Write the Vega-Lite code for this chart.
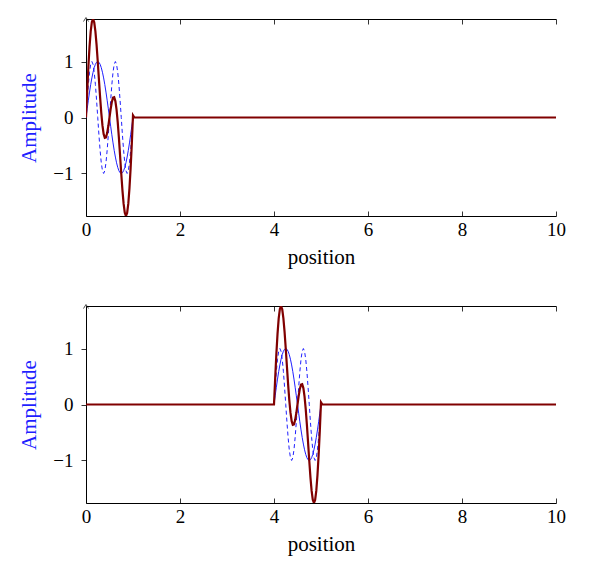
{
  "$schema": "https://vega.github.io/schema/vega-lite/v6.json",
  "padding": {"left": 18, "top": 15, "right": 5, "bottom": 5},
  "spacing": 35,
  "datasets": {
    "top": [
      {"x": 0, "sine": 0, "dbl": 0, "sum": 0},
      {"x": 0.025, "sine": 0.1564, "dbl": 0.309, "sum": 0.4654},
      {"x": 0.05, "sine": 0.309, "dbl": 0.5878, "sum": 0.8968},
      {"x": 0.075, "sine": 0.454, "dbl": 0.809, "sum": 1.263},
      {"x": 0.1, "sine": 0.5878, "dbl": 0.9511, "sum": 1.5389},
      {"x": 0.125, "sine": 0.7071, "dbl": 1, "sum": 1.7071},
      {"x": 0.15, "sine": 0.809, "dbl": 0.9511, "sum": 1.7601},
      {"x": 0.175, "sine": 0.891, "dbl": 0.809, "sum": 1.7},
      {"x": 0.2, "sine": 0.9511, "dbl": 0.5878, "sum": 1.5389},
      {"x": 0.225, "sine": 0.9877, "dbl": 0.309, "sum": 1.2967},
      {"x": 0.25, "sine": 1, "dbl": 0, "sum": 1},
      {"x": 0.275, "sine": 0.9877, "dbl": -0.309, "sum": 0.6787},
      {"x": 0.3, "sine": 0.9511, "dbl": -0.5878, "sum": 0.3633},
      {"x": 0.325, "sine": 0.891, "dbl": -0.809, "sum": 0.082},
      {"x": 0.35, "sine": 0.809, "dbl": -0.9511, "sum": -0.1421},
      {"x": 0.375, "sine": 0.7071, "dbl": -1, "sum": -0.2929},
      {"x": 0.4, "sine": 0.5878, "dbl": -0.9511, "sum": -0.3633},
      {"x": 0.425, "sine": 0.454, "dbl": -0.809, "sum": -0.355},
      {"x": 0.45, "sine": 0.309, "dbl": -0.5878, "sum": -0.2788},
      {"x": 0.475, "sine": 0.1564, "dbl": -0.309, "sum": -0.1526},
      {"x": 0.5, "sine": 0, "dbl": 0, "sum": 0},
      {"x": 0.525, "sine": -0.1564, "dbl": 0.309, "sum": 0.1526},
      {"x": 0.55, "sine": -0.309, "dbl": 0.5878, "sum": 0.2788},
      {"x": 0.575, "sine": -0.454, "dbl": 0.809, "sum": 0.355},
      {"x": 0.6, "sine": -0.5878, "dbl": 0.9511, "sum": 0.3633},
      {"x": 0.625, "sine": -0.7071, "dbl": 1, "sum": 0.2929},
      {"x": 0.65, "sine": -0.809, "dbl": 0.9511, "sum": 0.1421},
      {"x": 0.675, "sine": -0.891, "dbl": 0.809, "sum": -0.082},
      {"x": 0.7, "sine": -0.9511, "dbl": 0.5878, "sum": -0.3633},
      {"x": 0.725, "sine": -0.9877, "dbl": 0.309, "sum": -0.6787},
      {"x": 0.75, "sine": -1, "dbl": 0, "sum": -1},
      {"x": 0.775, "sine": -0.9877, "dbl": -0.309, "sum": -1.2967},
      {"x": 0.8, "sine": -0.9511, "dbl": -0.5878, "sum": -1.5389},
      {"x": 0.825, "sine": -0.891, "dbl": -0.809, "sum": -1.7},
      {"x": 0.85, "sine": -0.809, "dbl": -0.9511, "sum": -1.7601},
      {"x": 0.875, "sine": -0.7071, "dbl": -1, "sum": -1.7071},
      {"x": 0.9, "sine": -0.5878, "dbl": -0.9511, "sum": -1.5389},
      {"x": 0.925, "sine": -0.454, "dbl": -0.809, "sum": -1.263},
      {"x": 0.95, "sine": -0.309, "dbl": -0.5878, "sum": -0.8968},
      {"x": 0.975, "sine": -0.1564, "dbl": -0.309, "sum": -0.4654},
      {"x": 1, "sine": 0, "dbl": 0, "sum": 0.04},
      {"x": 1.03, "sum": 0},
      {"x": 10, "sum": 0}
    ],
    "bottom": [
      {"x": 0, "sum": 0},
      {"x": 3.97, "sum": 0},
      {"x": 4, "sine": 0, "dbl": 0, "sum": 0},
      {"x": 4.025, "sine": 0.1564, "dbl": 0.309, "sum": 0.4654},
      {"x": 4.05, "sine": 0.309, "dbl": 0.5878, "sum": 0.8968},
      {"x": 4.075, "sine": 0.454, "dbl": 0.809, "sum": 1.263},
      {"x": 4.1, "sine": 0.5878, "dbl": 0.9511, "sum": 1.5389},
      {"x": 4.125, "sine": 0.7071, "dbl": 1, "sum": 1.7071},
      {"x": 4.15, "sine": 0.809, "dbl": 0.9511, "sum": 1.7601},
      {"x": 4.175, "sine": 0.891, "dbl": 0.809, "sum": 1.7},
      {"x": 4.2, "sine": 0.9511, "dbl": 0.5878, "sum": 1.5389},
      {"x": 4.225, "sine": 0.9877, "dbl": 0.309, "sum": 1.2967},
      {"x": 4.25, "sine": 1, "dbl": 0, "sum": 1},
      {"x": 4.275, "sine": 0.9877, "dbl": -0.309, "sum": 0.6787},
      {"x": 4.3, "sine": 0.9511, "dbl": -0.5878, "sum": 0.3633},
      {"x": 4.325, "sine": 0.891, "dbl": -0.809, "sum": 0.082},
      {"x": 4.35, "sine": 0.809, "dbl": -0.9511, "sum": -0.1421},
      {"x": 4.375, "sine": 0.7071, "dbl": -1, "sum": -0.2929},
      {"x": 4.4, "sine": 0.5878, "dbl": -0.9511, "sum": -0.3633},
      {"x": 4.425, "sine": 0.454, "dbl": -0.809, "sum": -0.355},
      {"x": 4.45, "sine": 0.309, "dbl": -0.5878, "sum": -0.2788},
      {"x": 4.475, "sine": 0.1564, "dbl": -0.309, "sum": -0.1526},
      {"x": 4.5, "sine": 0, "dbl": 0, "sum": 0},
      {"x": 4.525, "sine": -0.1564, "dbl": 0.309, "sum": 0.1526},
      {"x": 4.55, "sine": -0.309, "dbl": 0.5878, "sum": 0.2788},
      {"x": 4.575, "sine": -0.454, "dbl": 0.809, "sum": 0.355},
      {"x": 4.6, "sine": -0.5878, "dbl": 0.9511, "sum": 0.3633},
      {"x": 4.625, "sine": -0.7071, "dbl": 1, "sum": 0.2929},
      {"x": 4.65, "sine": -0.809, "dbl": 0.9511, "sum": 0.1421},
      {"x": 4.675, "sine": -0.891, "dbl": 0.809, "sum": -0.082},
      {"x": 4.7, "sine": -0.9511, "dbl": 0.5878, "sum": -0.3633},
      {"x": 4.725, "sine": -0.9877, "dbl": 0.309, "sum": -0.6787},
      {"x": 4.75, "sine": -1, "dbl": 0, "sum": -1},
      {"x": 4.775, "sine": -0.9877, "dbl": -0.309, "sum": -1.2967},
      {"x": 4.8, "sine": -0.9511, "dbl": -0.5878, "sum": -1.5389},
      {"x": 4.825, "sine": -0.891, "dbl": -0.809, "sum": -1.7},
      {"x": 4.85, "sine": -0.809, "dbl": -0.9511, "sum": -1.7601},
      {"x": 4.875, "sine": -0.7071, "dbl": -1, "sum": -1.7071},
      {"x": 4.9, "sine": -0.5878, "dbl": -0.9511, "sum": -1.5389},
      {"x": 4.925, "sine": -0.454, "dbl": -0.809, "sum": -1.263},
      {"x": 4.95, "sine": -0.309, "dbl": -0.5878, "sum": -0.8968},
      {"x": 4.975, "sine": -0.1564, "dbl": -0.309, "sum": -0.4654},
      {"x": 5, "sine": 0, "dbl": 0, "sum": 0.04},
      {"x": 5.03, "sum": 0},
      {"x": 10, "sum": 0}
    ]
  },
  "vconcat": [
    {
      "width": 470,
      "height": 197,
      "data": {"name": "top"},
      "resolve": {"axis": {"x": "independent"}},
      "layer": [
        {
          "transform": [{"filter": "isValid(datum.sine)"}],
          "mark": {"type": "line", "color": "#1f1fff", "strokeWidth": 1, "strokeDash": [4, 3], "clip": true},
          "encoding": {
            "x": {"field": "x", "type": "quantitative", "scale": {"domain": [0, 10], "nice": false},
              "axis": {"orient": "top", "labels": false, "title": null, "values": [0, 2, 4, 6, 8, 10], "tickSize": -5}},
            "y": {"field": "dbl", "type": "quantitative"}
          }
        },
        {
          "transform": [{"filter": "isValid(datum.sine)"}],
          "mark": {"type": "line", "color": "#1f1fff", "strokeWidth": 1, "clip": true},
          "encoding": {
            "x": {"field": "x", "type": "quantitative", "axis": null},
            "y": {"field": "sine", "type": "quantitative"}
          }
        },
        {
          "mark": {"type": "line", "color": "#800000", "strokeWidth": 2.2, "clip": true},
          "encoding": {
            "x": {"field": "x", "type": "quantitative", "scale": {"domain": [0, 10], "nice": false},
              "axis": {"orient": "bottom", "title": "position", "values": [0, 2, 4, 6, 8, 10], "tickSize": -5}},
            "y": {"field": "sum", "type": "quantitative", "scale": {"domain": [-1.76, 1.76], "nice": false},
              "axis": {"title": "Amplitude", "values": [-1, 0, 1], "format": "d", "titleColor": "#1f1fff"}}
          }
        },
        {
          "data": {"values": [{"x": 0, "y": 1.76}]},
          "mark": {"type": "point", "shape": "M -1 1 L 0 -0.6 L 1 1", "filled": false, "stroke": "black", "strokeWidth": 1, "size": 25},
          "encoding": {
            "x": {"field": "x", "type": "quantitative", "axis": null},
            "y": {"field": "y", "type": "quantitative"}
          }
        }
      ]
    },
    {
      "width": 470,
      "height": 197,
      "data": {"name": "bottom"},
      "resolve": {"axis": {"x": "independent"}},
      "layer": [
        {
          "transform": [{"filter": "isValid(datum.sine)"}],
          "mark": {"type": "line", "color": "#1f1fff", "strokeWidth": 1, "strokeDash": [4, 3], "clip": true},
          "encoding": {
            "x": {"field": "x", "type": "quantitative", "scale": {"domain": [0, 10], "nice": false},
              "axis": {"orient": "top", "labels": false, "title": null, "values": [0, 2, 4, 6, 8, 10], "tickSize": -5}},
            "y": {"field": "dbl", "type": "quantitative"}
          }
        },
        {
          "transform": [{"filter": "isValid(datum.sine)"}],
          "mark": {"type": "line", "color": "#1f1fff", "strokeWidth": 1, "clip": true},
          "encoding": {
            "x": {"field": "x", "type": "quantitative", "axis": null},
            "y": {"field": "sine", "type": "quantitative"}
          }
        },
        {
          "mark": {"type": "line", "color": "#800000", "strokeWidth": 2.2, "clip": true},
          "encoding": {
            "x": {"field": "x", "type": "quantitative", "scale": {"domain": [0, 10], "nice": false},
              "axis": {"orient": "bottom", "title": "position", "values": [0, 2, 4, 6, 8, 10], "tickSize": -5}},
            "y": {"field": "sum", "type": "quantitative", "scale": {"domain": [-1.76, 1.76], "nice": false},
              "axis": {"title": "Amplitude", "values": [-1, 0, 1], "format": "d", "titleColor": "#1f1fff"}}
          }
        },
        {
          "data": {"values": [{"x": 0, "y": 1.76}]},
          "mark": {"type": "point", "shape": "M -1 1 L 0 -0.6 L 1 1", "filled": false, "stroke": "black", "strokeWidth": 1, "size": 25},
          "encoding": {
            "x": {"field": "x", "type": "quantitative", "axis": null},
            "y": {"field": "y", "type": "quantitative"}
          }
        }
      ]
    }
  ],
  "config": {
    "font": "Liberation Serif",
    "view": {"stroke": null},
    "axis": {
      "grid": false,
      "domainColor": "black",
      "domainWidth": 1,
      "tickColor": "black",
      "tickWidth": 0.8,
      "labelFont": "Liberation Serif",
      "labelFontSize": 19,
      "labelColor": "black",
      "labelFlush": false,
      "titleFont": "Liberation Serif",
      "titleFontSize": 21,
      "titleFontWeight": "normal",
      "titleColor": "black"
    },
    "axisX": {"labelPadding": 9, "titlePadding": 7},
    "axisY": {"tickSize": 5, "labelPadding": 8, "titlePadding": 13}
  }
}
